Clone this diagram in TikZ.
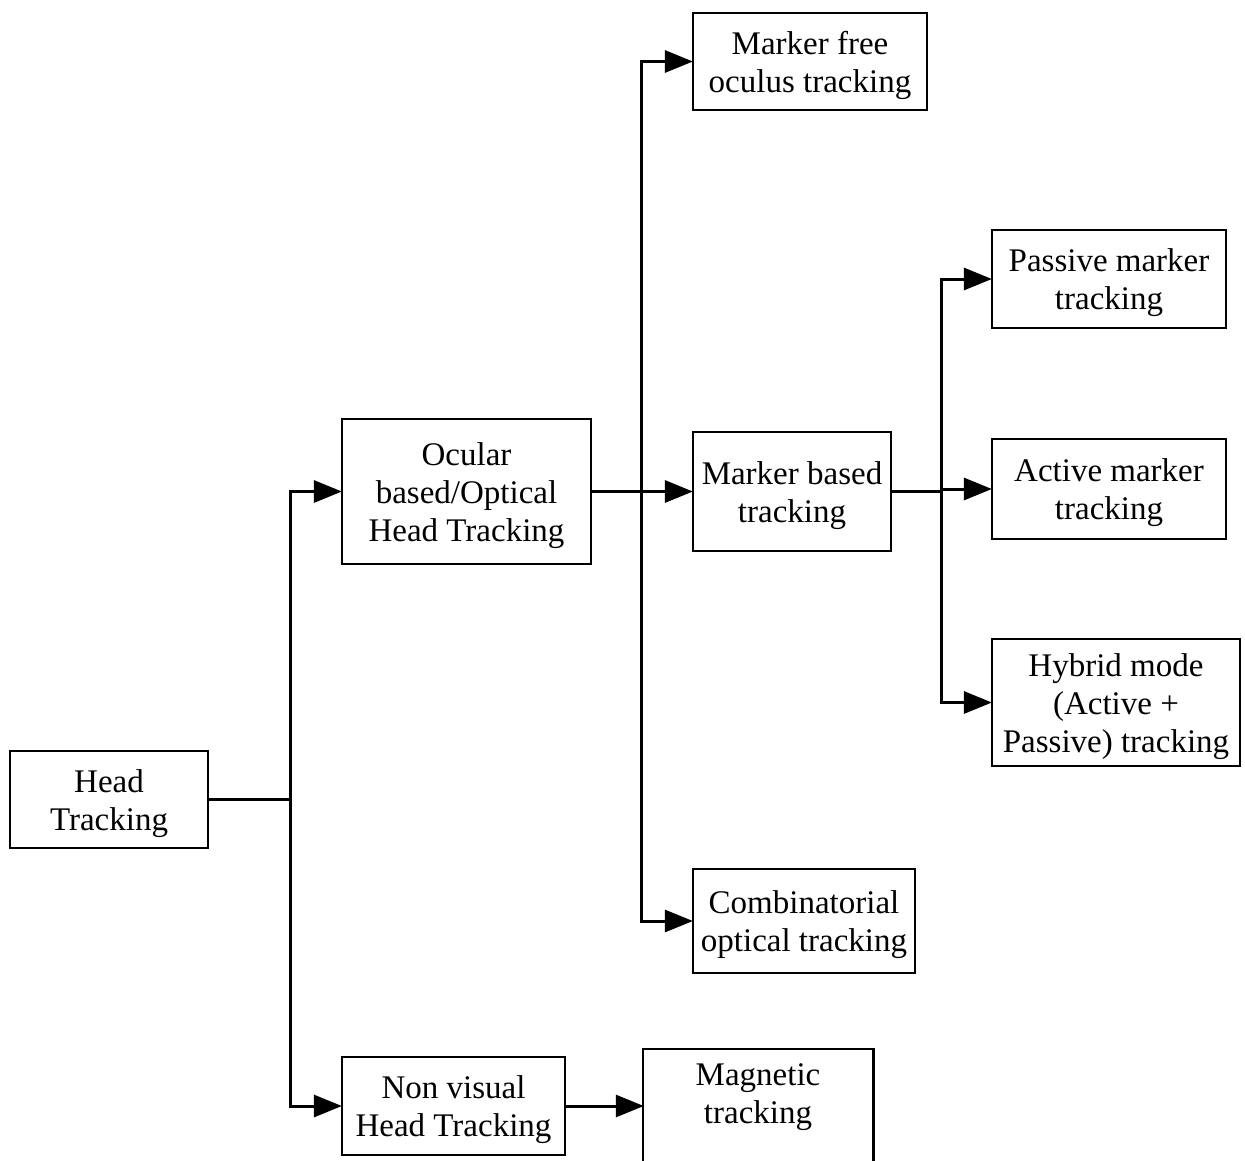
\documentclass[tikz,border=0pt]{standalone}
\usepackage{fontspec}
\setmainfont{Liberation Serif}
\usetikzlibrary{arrows.meta}
% a framed box with its caption set slightly below the centre
\newcommand\treebox[5]{%
  \node[box, minimum width=#3, minimum height=#4] (#1) at #2 {};
  \node[boxtext] (#1-text) at ([yshift=-4pt]#1.center) {#5};}
\begin{document}
\begin{tikzpicture}[x=1pt,y=-1pt,
  box/.style={draw, line width=2.2pt, inner sep=0pt},
  boxtext/.style={align=center, inner sep=0pt, font=\fontsize{33}{38}\selectfont},
  link/.style={line width=3pt},
  arr/.style={link, -{Triangle[length=28pt,width=22pt]}, shorten >=-1pt}]
  \useasboundingbox (0,0) rectangle (1245,1160);
  \clip (0,0) rectangle (1245,1160);
  \fill[white] (0,0) rectangle (1245,1160);

  % tree nodes
  \treebox{head}{(109,799.5)}{198pt}{97pt}{Head\\Tracking}
  \treebox{ocular}{(466.5,491.5)}{249pt}{145pt}{Ocular\\based/Optical\\Head Tracking}
  \treebox{nonvis}{(453.5,1106)}{223pt}{98pt}{Non visual\\Head Tracking}
  \treebox{mfree}{(810,61.5)}{234pt}{97pt}{Marker free\\oculus tracking}
  \treebox{mbased}{(792,491.5)}{198pt}{119pt}{Marker based\\tracking}
  \treebox{comb}{(804,921)}{222pt}{104pt}{Combinatorial\\optical tracking}
  \treebox{passive}{(1109,279)}{234pt}{98pt}{Passive marker\\tracking}
  \treebox{active}{(1109,489)}{234pt}{100pt}{Active marker\\tracking}
  \treebox{hybrid}{(1116,702.5)}{248pt}{127pt}{Hybrid mode\\(Active +\\Passive) tracking}

  % the last box runs off the lower edge
  \node[minimum width=230pt, minimum height=89pt, inner sep=0pt] (magnetic) at (758,1093.5) {};
  \node[boxtext] (magnetic-text) at ([yshift=-4pt]magnetic.center) {Magnetic\\tracking};
  \draw[line width=2.6pt] ([yshift=-60pt]magnetic.south west) |- (magnetic.north east) -- ([yshift=-60pt]magnetic.south east);

  % branch points
  \coordinate (j1) at (290,799.5);
  \coordinate (j2) at (641,491.5);
  \coordinate (j3) at (941,491.5);

  % connectors
  \draw[link] (head.east) -- (j1);
  \draw[arr] (j1) |- (ocular.west);
  \draw[arr] (j1) |- (nonvis.west);
  \draw[arr] (nonvis.east) -- (magnetic.west |- nonvis.east);

  \draw[arr] (ocular.east) -- (mbased.west);
  \draw[arr] (j2) |- (mfree.west);
  \draw[arr] (j2) |- (comb.west);

  \draw[link] (mbased.east) -- (j3);
  \draw[arr] (j3) |- (passive.west);
  \draw[arr] (j3) |- (active.west);
  \draw[arr] (j3) |- (hybrid.west);
\end{tikzpicture}
\end{document}
